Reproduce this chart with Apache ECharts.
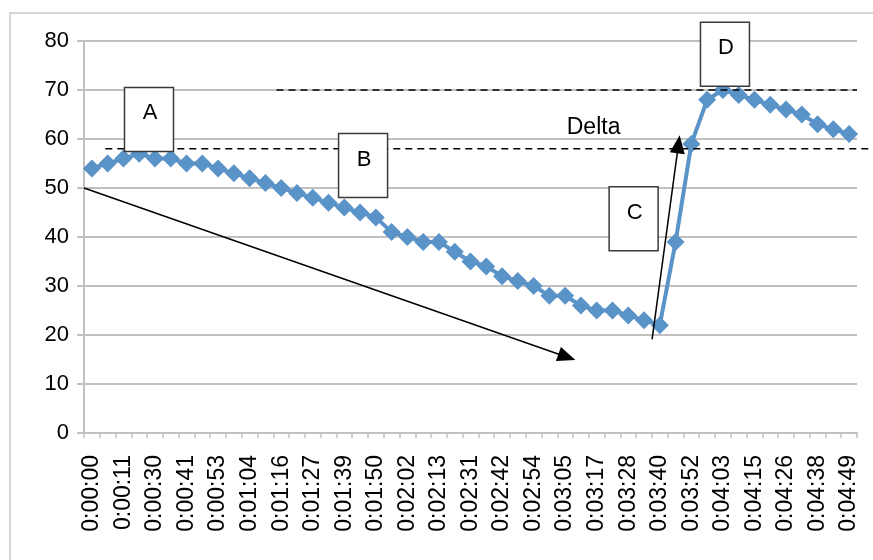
<!DOCTYPE html>
<html>
<head>
<meta charset="utf-8">
<script src="https://cdn.jsdelivr.net/npm/echarts@6/dist/echarts.min.js"></script>
<style>
  html, body { margin: 0; padding: 0; background: #ffffff; }
  #chart { width: 873px; height: 560px; }
</style>
</head>
<body>
<div id="chart"></div>
<script>
// Time labels shown under every second sample
const tickLabels = [
  '0:00:00', '0:00:11', '0:00:30', '0:00:41', '0:00:53', '0:01:04', '0:01:16',
  '0:01:27', '0:01:39', '0:01:50', '0:02:02', '0:02:13', '0:02:31', '0:02:42',
  '0:02:54', '0:03:05', '0:03:17', '0:03:28', '0:03:40', '0:03:52', '0:04:03',
  '0:04:15', '0:04:26', '0:04:38', '0:04:49'
];

// Measured readings, one per sample
const readings = [
  54, 55, 56, 57, 56, 56, 55, 55, 54, 53,
  52, 51, 50, 49, 48, 47, 46, 45, 44, 41,
  40, 39, 39, 37, 35, 34, 32, 31, 30, 28,
  28, 26, 25, 25, 24, 23, 22, 39, 59, 68,
  70, 69, 68, 67, 66, 65, 63, 62, 61
];

const yTicks = [0, 10, 20, 30, 40, 50, 60, 70, 80];

// Reference levels (value, start sample, end sample)
const levels = [
  { value: 58, from: 0.85, to: 49.5 },
  { value: 70, from: 11.7, to: 48.5 }
];

// Callout boxes anchored in data units (sample index, value)
const callouts = [
  { text: 'A', at: 3.62, value: 64.0 },
  { text: 'B', at: 17.19, value: 54.6 },
  { text: 'C', at: 34.34, value: 43.7 },
  { text: 'D', at: 40.13, value: 77.3 }
];

const deltaNote = { text: 'Delta', at: 30.1, value: 62.4 };

// Trend arrows: start and end in data units
const arrows = [
  { from: [-0.5, 50], to: [30.65, 14.9] },
  { from: [35.51, 19.1], to: [37.26, 60.75] }
];

const sampleIds = readings.map((_, i) => String(i));
const FONT = "'Liberation Sans', Arial, sans-serif";
const GRID_GREY = '#c0c0c0';
const SERIES_BLUE = '#5a93c8';

const chart = echarts.init(document.getElementById('chart'), null, { renderer: 'canvas' });

chart.setOption({
  animation: false,
  backgroundColor: '#ffffff',
  grid: { left: 84, right: 16, top: 41, bottom: 127, containLabel: false },
  xAxis: {
    type: 'category',
    data: sampleIds,
    boundaryGap: true,
    axisLine: { show: true, lineStyle: { color: GRID_GREY, width: 2 } },
    axisTick: { show: true, interval: 0, length: 5, lineStyle: { color: GRID_GREY, width: 1.5 } },
    axisLabel: {
      interval: 1,
      rotate: 90,
      margin: 22,
      color: '#000',
      fontFamily: FONT,
      fontSize: 23,
      formatter: (v, i) => (i % 2 === 0 ? tickLabels[i / 2] : '')
    },
    splitLine: { show: false }
  },
  yAxis: {
    type: 'value',
    min: yTicks[0],
    max: yTicks[yTicks.length - 1],
    interval: 10,
    axisLine: { show: true, lineStyle: { color: GRID_GREY, width: 2 } },
    axisTick: { show: true, length: 7, lineStyle: { color: GRID_GREY, width: 2 } },
    axisLabel: { color: '#000', fontFamily: FONT, fontSize: 22, margin: 15 },
    splitLine: { show: true, lineStyle: { color: GRID_GREY, width: 2 } }
  },
  series: [{
    type: 'line',
    data: readings,
    symbol: 'diamond',
    symbolSize: [18, 18],
    showAllSymbol: true,
    lineStyle: { color: SERIES_BLUE, width: 4 },
    itemStyle: { color: SERIES_BLUE },
    z: 2
  }]
});

// Map a fractional sample position and a value to pixels
const x0 = chart.convertToPixel({ xAxisIndex: 0 }, 0);
const x1 = chart.convertToPixel({ xAxisIndex: 0 }, 1);
const px = (idx) => x0 + idx * (x1 - x0);
const py = (v) => chart.convertToPixel({ yAxisIndex: 0 }, v);

const graphics = [];

// Chart-area frame
graphics.push({
  type: 'rect',
  shape: { x: 10, y: 13, width: 900, height: 600 },
  style: { fill: null, stroke: '#c8c8c8', lineWidth: 1.5 },
  silent: true,
  z: 0
});

levels.forEach((l) => {
  const y = py(l.value);
  graphics.push({
    type: 'line',
    shape: { x1: px(l.from), y1: y, x2: px(l.to), y2: y },
    style: { stroke: '#000', lineWidth: 1.5, lineDash: [7, 5] },
    silent: true,
    z: 5
  });
});

arrows.forEach((a) => {
  const sx = px(a.from[0]), sy = py(a.from[1]);
  const tx = px(a.to[0]), ty = py(a.to[1]);
  const ang = Math.atan2(ty - sy, tx - sx);
  const len = 18, half = 7.5;
  const bx = tx - len * Math.cos(ang), by = ty - len * Math.sin(ang);
  const nx = -Math.sin(ang), ny = Math.cos(ang);
  graphics.push({
    type: 'line',
    shape: { x1: sx, y1: sy, x2: bx + 2 * Math.cos(ang), y2: by + 2 * Math.sin(ang) },
    style: { stroke: '#000', lineWidth: 1.5 },
    silent: true,
    z: 6
  });
  graphics.push({
    type: 'polygon',
    shape: { points: [[tx, ty], [bx + half * nx, by + half * ny], [bx - half * nx, by - half * ny]] },
    style: { fill: '#000' },
    silent: true,
    z: 6
  });
});

callouts.forEach((c) => {
  const cx = px(c.at), cy = py(c.value);
  const w = 49, h = 64;
  graphics.push({
    type: 'rect',
    shape: { x: cx - w / 2, y: cy - h / 2, width: w, height: h },
    style: { fill: '#ffffff', stroke: '#3a3a3a', lineWidth: 1.5 },
    silent: true,
    z: 10
  });
  graphics.push({
    type: 'text',
    x: cx + 1,
    y: cy - 6,
    style: {
      text: c.text, fill: '#000', font: '22px ' + FONT,
      textAlign: 'center', textVerticalAlign: 'middle'
    },
    silent: true,
    z: 11
  });
});

graphics.push({
  type: 'text',
  x: px(deltaNote.at),
  y: py(deltaNote.value),
  style: {
    text: deltaNote.text, fill: '#000', font: '23px ' + FONT,
    textAlign: 'left', textVerticalAlign: 'middle'
  },
  silent: true,
  z: 11
});

chart.setOption({ graphic: { elements: graphics } });
</script>
</body>
</html>
